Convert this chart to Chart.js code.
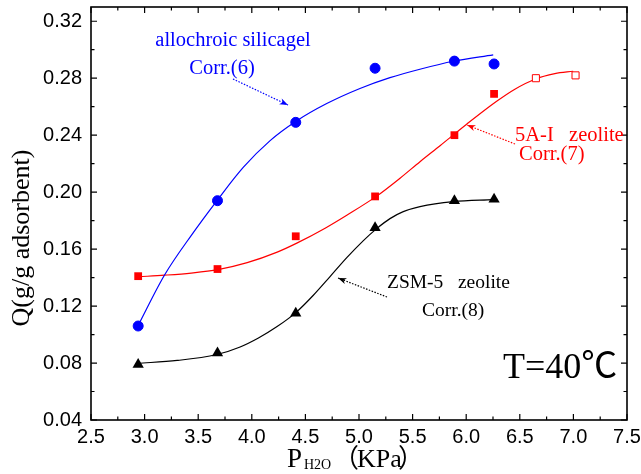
<!DOCTYPE html>
<html>
<head>
<meta charset="utf-8">
<script src="https://cdn.jsdelivr.net/npm/chart.js@4"></script>
<style>
  html, body { margin: 0; padding: 0; background: #fff; }
</style>
</head>
<body>
<canvas id="isoChart" width="641" height="474"></canvas>
<script>
// measured points (P in kPa, Q in g/g adsorbent)
const pressure = [2.94, 3.68, 4.41, 5.15, 5.89, 6.26];
const silicagelQ = [0.106, 0.194, 0.249, 0.287, 0.292, 0.290];
const zeoliteQ = [0.141, 0.146, 0.169, 0.197, 0.240, 0.269];
const zeoliteOpenP = [6.65, 7.02];
const zeoliteOpenQ = [0.280, 0.282];
const zsmQ = [0.079, 0.087, 0.115, 0.175, 0.194, 0.195];

// correlation curves
const corr6P = [2.934, 3.186, 3.441, 3.674, 3.922, 4.171, 4.413, 4.699, 5.009, 5.289, 5.568, 5.879, 6.252];
const corr6Q = [0.1055, 0.1418, 0.1702, 0.1939, 0.2175, 0.2362, 0.2498, 0.2622, 0.2728, 0.2804, 0.2863, 0.2919, 0.2964];
const corr7P = [2.944, 3.186, 3.435, 3.684, 3.957, 4.237, 4.420, 4.684, 4.886, 5.165, 5.383, 5.569, 5.756, 6.004, 6.284, 6.454, 6.641, 6.827, 6.998];
const corr7Q = [0.1406, 0.1417, 0.1432, 0.1456, 0.1505, 0.1579, 0.1642, 0.1747, 0.1838, 0.1972, 0.2098, 0.2214, 0.2326, 0.2477, 0.2638, 0.2723, 0.2793, 0.2832, 0.2849];
const corr8P = [2.934, 3.304, 3.674, 3.891, 4.062, 4.236, 4.411, 4.572, 4.730, 4.886, 5.041, 5.165, 5.289, 5.413, 5.569, 5.879, 6.252];
const corr8Q = [0.0798, 0.0818, 0.0860, 0.0913, 0.0976, 0.1056, 0.1154, 0.1274, 0.1407, 0.1540, 0.1660, 0.1744, 0.1814, 0.1863, 0.1898, 0.1933, 0.1947];

const xTicks = [2.5, 3.0, 3.5, 4.0, 4.5, 5.0, 5.5, 6.0, 6.5, 7.0, 7.5];
const yTicks = [0.04, 0.08, 0.12, 0.16, 0.20, 0.24, 0.28, 0.32];

const pts = (xs, ys) => xs.map((v, i) => ({ x: v, y: ys[i] }));
const midpoints = arr => arr.slice(1).map((v, i) => (v + arr[i]) / 2);

function curve(xs, ys, color) {
  return {
    data: pts(xs, ys),
    showLine: true,
    borderColor: color,
    borderWidth: 1.2,
    pointRadius: 0,
    cubicInterpolationMode: 'monotone',
    order: 2
  };
}

function arrow(ctx, x1, y1, x2, y2, color) {
  ctx.save();
  ctx.strokeStyle = color;
  ctx.fillStyle = color;
  ctx.lineWidth = 1.2;
  ctx.setLineDash([1.5, 1.5]);
  ctx.beginPath();
  ctx.moveTo(x1, y1);
  ctx.lineTo(x2, y2);
  ctx.stroke();
  ctx.setLineDash([]);
  const ang = Math.atan2(y2 - y1, x2 - x1);
  ctx.beginPath();
  ctx.moveTo(x2, y2);
  ctx.lineTo(x2 - 9 * Math.cos(ang - 0.35), y2 - 9 * Math.sin(ang - 0.35));
  ctx.lineTo(x2 - 6 * Math.cos(ang), y2 - 6 * Math.sin(ang));
  ctx.lineTo(x2 - 9 * Math.cos(ang + 0.35), y2 - 9 * Math.sin(ang + 0.35));
  ctx.closePath();
  ctx.fill();
  ctx.restore();
}

function text(ctx, str, x, y, color, font, align) {
  ctx.fillStyle = color;
  ctx.font = font;
  ctx.textAlign = align || 'left';
  ctx.textBaseline = 'middle';
  ctx.fillText(str, x, y);
}

const frameAndNotes = {
  id: 'frameAndNotes',
  afterDraw(chart) {
    const { ctx, chartArea: a, scales: { x, y } } = chart;
    ctx.save();
    ctx.strokeStyle = '#000';
    ctx.lineWidth = 1.6;
    ctx.strokeRect(a.left, a.top, a.right - a.left, a.bottom - a.top);

    // inward ticks on all four sides
    ctx.lineWidth = 1.2;
    const tickX = (v, len) => {
      const px = x.getPixelForValue(v);
      ctx.beginPath();
      ctx.moveTo(px, a.bottom); ctx.lineTo(px, a.bottom - len);
      ctx.moveTo(px, a.top); ctx.lineTo(px, a.top + len);
      ctx.stroke();
    };
    const tickY = (v, len) => {
      const py = y.getPixelForValue(v);
      ctx.beginPath();
      ctx.moveTo(a.left, py); ctx.lineTo(a.left + len, py);
      ctx.moveTo(a.right, py); ctx.lineTo(a.right - len, py);
      ctx.stroke();
    };
    xTicks.forEach(v => tickX(v, 6));
    midpoints(xTicks).forEach(v => tickX(v, 3.5));
    yTicks.forEach(v => tickY(v, 6));
    midpoints(yTicks).forEach(v => tickY(v, 3.5));

    // axis titles
    ctx.save();
    ctx.translate(22, 238);
    ctx.rotate(-Math.PI / 2);
    text(ctx, 'Q(g/g adsorbent)', 0, 0, '#000', '26px "Liberation Serif"', 'center');
    ctx.restore();

    ctx.textBaseline = 'alphabetic';
    ctx.fillStyle = '#000';
    ctx.textAlign = 'left';
    ctx.font = '27px "Liberation Serif"';
    ctx.fillText('P', 287, 467);
    ctx.font = '14px "Liberation Serif"';
    ctx.fillText('H2O', 304, 469);
    ctx.font = '26px "Liberation Serif", "Noto Sans CJK SC"';
    ctx.fillText('（', 333, 467);
    ctx.fillText('KPa', 357, 467);
    ctx.fillText('）', 398, 467);

    // notes
    text(ctx, 'allochroic silicagel', 233, 41, '#0000ff', '20.5px "Liberation Serif"', 'center');
    text(ctx, 'Corr.(6)', 222, 69, '#0000ff', '20.5px "Liberation Serif"', 'center');
    arrow(ctx, 233, 79, 288, 105, '#0000ff');

    text(ctx, '5A-I   zeolite', 515, 136, '#ff0000', '20.5px "Liberation Serif"');
    text(ctx, 'Corr.(7)', 519, 155, '#ff0000', '20.5px "Liberation Serif"');
    arrow(ctx, 515, 144, 467, 125, '#ff0000');

    text(ctx, 'ZSM-5   zeolite', 387, 283, '#000', '19.5px "Liberation Serif"');
    text(ctx, 'Corr.(8)', 422, 311, '#000', '19.5px "Liberation Serif"');
    arrow(ctx, 387, 297, 338, 278, '#000');

    text(ctx, 'T=40℃', 503, 369, '#000', '36px "Liberation Serif", "Noto Sans CJK SC"');
    ctx.restore();
  }
};

new Chart(document.getElementById('isoChart'), {
  type: 'scatter',
  data: {
    datasets: [
      { data: pts(pressure, silicagelQ), pointStyle: 'circle', pointRadius: 5, backgroundColor: '#0000ff', borderColor: '#0000ff', order: 1 },
      { data: pts(pressure, zeoliteQ), pointStyle: 'rect', pointRadius: 5.5, backgroundColor: '#ff0000', borderColor: '#ff0000', borderWidth: 0, order: 1 },
      { data: pts(zeoliteOpenP, zeoliteOpenQ), pointStyle: 'rect', pointRadius: 5, backgroundColor: '#ffffff', borderColor: '#ff0000', borderWidth: 1, order: 1 },
      { data: pts(pressure, zsmQ), pointStyle: 'triangle', pointRadius: 6.5, backgroundColor: '#000', borderColor: '#000', borderWidth: 0, order: 1 },
      curve(corr6P, corr6Q, '#0000ff'),
      curve(corr7P, corr7Q, '#ff0000'),
      curve(corr8P, corr8Q, '#000000')
    ]
  },
  options: {
    responsive: false,
    animation: false,
    layout: { padding: { top: 7, right: 14, left: 0, bottom: 0 } },
    plugins: { legend: { display: false }, tooltip: { enabled: false } },
    scales: {
      x: {
        type: 'linear',
        min: 2.5,
        max: 7.5,
        afterBuildTicks: s => { s.ticks = xTicks.map(v => ({ value: v })); },
        afterFit: s => { s.height = 54; s.paddingLeft = 0; s.paddingRight = 0; },
        ticks: {
          callback: v => v.toFixed(1),
          font: { family: 'Liberation Sans', size: 20 },
          color: '#000',
          padding: 5,
          maxRotation: 0,
          autoSkip: false
        },
        grid: { display: false, drawTicks: false },
        border: { display: false }
      },
      y: {
        min: 0.04,
        max: 0.33,
        afterBuildTicks: s => { s.ticks = yTicks.map(v => ({ value: v })); },
        afterFit: s => { s.width = 91; s.paddingTop = 0; s.paddingBottom = 0; },
        ticks: {
          callback: v => v.toFixed(2),
          font: { family: 'Liberation Sans', size: 20 },
          color: '#000',
          padding: 9,
          autoSkip: false
        },
        grid: { display: false, drawTicks: false },
        border: { display: false }
      }
    }
  },
  plugins: [frameAndNotes]
});
</script>
</body>
</html>
